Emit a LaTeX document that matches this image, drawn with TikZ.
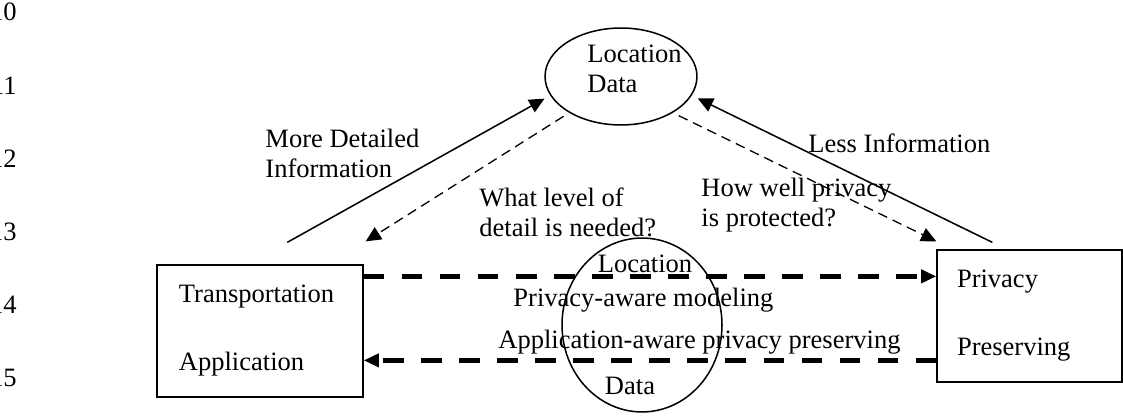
\documentclass[tikz,border=0pt]{standalone}
\usepackage{fontspec}
\setmainfont{Liberation Serif}
\usetikzlibrary{shapes.geometric,arrows.meta,calc}

\begin{document}
\begin{tikzpicture}[x=0.46pt,y=-0.46pt,
    every node/.style={font=\fontsize{12.2}{13.8}\selectfont, inner sep=0pt},
    box/.style={draw, line width=0.6pt, align=left, minimum height=60.7pt},
    oval/.style={ellipse, draw, line width=0.7pt},
    lbl/.style={align=left},
    solid arrow/.style={line width=0.7pt, shorten >=3pt, -{Triangle[length=7pt,width=6.5pt]}},
    thin dash/.style={line width=0.6pt, dash pattern=on 4.5pt off 2.8pt, shorten <=3pt, -{Triangle[length=7pt,width=6.5pt]}},
    big dash/.style={line width=2pt, dash pattern=on 9.5pt off 8pt, -{Triangle[length=7pt,width=6pt]}}]

    \useasboundingbox (0,0) rectangle (1123,418);

    % line numbers at the margin
    \foreach \k in {0,...,5}
        \node[anchor=base east] (num\k) at (17,{21+73.2*\k}) {\the\numexpr10+\k\relax};

    % the two boxes
    \node[box, text width=74.6pt, inner xsep=10.1pt] (tapp) at (260,331) {Transportation\\[17.5pt]Application};
    \node[box, text width=66.7pt, inner xsep=9.2pt] (pp) at (1029.5,316) {Privacy\\[17.5pt]Preserving};

    % location data on top
    \node[oval, minimum width=69.9pt, minimum height=44.6pt] (loc) at (621,76.5) {};
    \node[lbl, anchor=west] (loctext) at (587,69) {Location\\Data};

    % location data in the middle
    \node[oval, minimum width=73.6pt, minimum height=80pt] (mid) at (642,325) {};
    \node[anchor=base] (midtop) at (645,273) {Location};
    \node[anchor=base west] (pam) at (513,307) {Privacy-aware modeling};
    \node[anchor=base west] (aapp) at (498,349) {Application-aware privacy preserving};
    \node[anchor=base] (midbot) at (630,395) {Data};

    % labels for arrows
    \node[lbl, anchor=west] (more) at (265,153) {More Detailed\\Information};
    \node[anchor=base west] (less) at (808,153) {Less Information};
    \node[lbl, anchor=west] (what) at (479,212.5) {What level of\\detail is needed?};
    \node[lbl, anchor=west] (how) at (701,205) {How well privacy\\is protected?};

    % free ends
    \coordinate (ms) at ($(tapp.north west)+(131,-22)$);
    \coordinate (ls) at ($(pp.north west)+(56,-7)$);
    \coordinate (wt) at ($(tapp.north east)+(2,-23)$);
    \coordinate (ht) at ($(pp.north west)+(0,-8)$);
    \coordinate (t1) at ($(tapp.north east)+(0,12)$);
    \coordinate (b1) at ($(pp.north west)+(0,111)$);

    % arrows to and from location data
    \draw[solid arrow] (ms) -- (loc.195);
    \draw[solid arrow] (ls) -- (loc.-15);
    \draw[thin dash] (loc.215) -- (wt);
    \draw[thin dash] (loc.-35) -- (ht);

    % thick dashed arrows between the boxes
    \draw[big dash] (t1) -- (t1 -| pp.west);
    \draw[big dash] (b1) -- (b1 -| tapp.east);

\end{tikzpicture}
\end{document}
